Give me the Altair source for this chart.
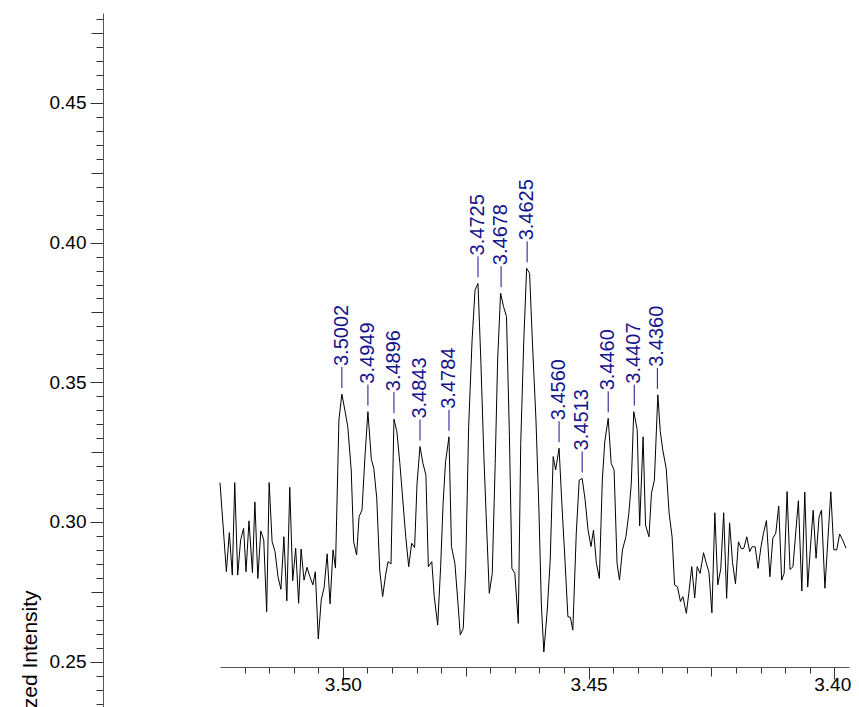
import altair as alt
import pandas as pd

# ---- spectrum ----
ppm = [3.5250, 3.5237, 3.5231, 3.5225, 3.5220, 3.5214, 3.5208, 3.5202, 3.5197, 3.5191,
       3.5184, 3.5179, 3.5173, 3.5167, 3.5161, 3.5155, 3.5150, 3.5144, 3.5138, 3.5132,
       3.5126, 3.5120, 3.5114, 3.5108, 3.5102, 3.5096, 3.5090, 3.5085, 3.5079, 3.5073,
       3.5067, 3.5061, 3.5056, 3.5050, 3.5044, 3.5038, 3.5032, 3.5026, 3.5020, 3.5015,
       3.5008, 3.5002, 3.4996, 3.4990, 3.4983, 3.4978, 3.4972, 3.4967, 3.4961, 3.4955,
       3.4949, 3.4942, 3.4937, 3.4931, 3.4925, 3.4919, 3.4913, 3.4908, 3.4902, 3.4896,
       3.4890, 3.4884, 3.4878, 3.4872, 3.4866, 3.4860, 3.4854, 3.4849, 3.4843, 3.4837,
       3.4831, 3.4826, 3.4819, 3.4814, 3.4807, 3.4801, 3.4796, 3.4791, 3.4784, 3.4779,
       3.4772, 3.4766, 3.4761, 3.4755, 3.4750, 3.4744, 3.4737, 3.4731, 3.4725, 3.4719,
       3.4713, 3.4708, 3.4702, 3.4696, 3.4690, 3.4685, 3.4679, 3.4673, 3.4667, 3.4661,
       3.4656, 3.4650, 3.4643, 3.4638, 3.4632, 3.4626, 3.4620, 3.4614, 3.4607, 3.4601,
       3.4596, 3.4591, 3.4584, 3.4578, 3.4572, 3.4567, 3.4560, 3.4554, 3.4548, 3.4542,
       3.4537, 3.4532, 3.4525, 3.4519, 3.4513, 3.4507, 3.4501, 3.4495, 3.4490, 3.4484,
       3.4478, 3.4472, 3.4467, 3.4460, 3.4454, 3.4448, 3.4442, 3.4437, 3.4431, 3.4424,
       3.4418, 3.4413, 3.4408, 3.4401, 3.4396, 3.4389, 3.4384, 3.4377, 3.4372, 3.4366,
       3.4359, 3.4354, 3.4349, 3.4342, 3.4336, 3.4330, 3.4325, 3.4319, 3.4313, 3.4308,
       3.4301, 3.4296, 3.4290, 3.4284, 3.4279, 3.4273, 3.4266, 3.4260, 3.4255, 3.4249,
       3.4243, 3.4237, 3.4231, 3.4225, 3.4219, 3.4213, 3.4207, 3.4201, 3.4195, 3.4189,
       3.4184, 3.4178, 3.4172, 3.4167, 3.4161, 3.4155, 3.4149, 3.4144, 3.4138, 3.4131,
       3.4125, 3.4119, 3.4113, 3.4107, 3.4102, 3.4096, 3.4090, 3.4084, 3.4078, 3.4073,
       3.4066, 3.4060, 3.4054, 3.4049, 3.4043, 3.4037, 3.4031, 3.4026, 3.4019, 3.4014,
       3.4007, 3.4001, 3.3995, 3.3989, 3.3983, 3.3976]

intensity = [0.3141, 0.2822, 0.2962, 0.2810, 0.3141, 0.2810, 0.2936, 0.2977, 0.2822, 0.3004,
             0.2819, 0.3072, 0.2798, 0.2968, 0.2936, 0.2679, 0.3141, 0.2930, 0.2894, 0.2804,
             0.2759, 0.2947, 0.2718, 0.3124, 0.2790, 0.2906, 0.2709, 0.2903, 0.2792, 0.2838,
             0.2804, 0.2775, 0.2822, 0.2581, 0.2721, 0.2767, 0.2886, 0.2707, 0.2900, 0.2835,
             0.3365, 0.3458, 0.3401, 0.3341, 0.3186, 0.2929, 0.2882, 0.3019, 0.3043, 0.3234,
             0.3395, 0.3224, 0.3192, 0.3085, 0.2828, 0.2733, 0.2810, 0.2858, 0.2850, 0.3368,
             0.3323, 0.3210, 0.3079, 0.2947, 0.2840, 0.2924, 0.2908, 0.3139, 0.3270, 0.3210,
             0.3168, 0.2840, 0.2858, 0.2733, 0.2631, 0.2840, 0.3067, 0.3216, 0.3305, 0.2912,
             0.2852, 0.2715, 0.2596, 0.2619, 0.2834, 0.3341, 0.3651, 0.3830, 0.3854, 0.3568,
             0.3234, 0.3007, 0.2745, 0.2816, 0.3210, 0.3580, 0.3819, 0.3771, 0.3735, 0.3305,
             0.2834, 0.2816, 0.2637, 0.3282, 0.3640, 0.3908, 0.3890, 0.3633, 0.3365, 0.3043,
             0.2703, 0.2535, 0.2685, 0.2864, 0.3234, 0.3186, 0.3264, 0.3055, 0.2864, 0.2661,
             0.2659, 0.2613, 0.2960, 0.3150, 0.3156, 0.3079, 0.2971, 0.2912, 0.2971, 0.2852,
             0.2798, 0.3150, 0.3287, 0.3371, 0.3210, 0.3186, 0.2852, 0.2792, 0.2900, 0.2947,
             0.3031, 0.3139, 0.3395, 0.3330, 0.2986, 0.3305, 0.2989, 0.2947, 0.3103, 0.3150,
             0.3455, 0.3323, 0.3258, 0.3192, 0.3031, 0.2947, 0.2775, 0.2768, 0.2715, 0.2733,
             0.2673, 0.2745, 0.2840, 0.2728, 0.2840, 0.2816, 0.2890, 0.2850, 0.2820, 0.2675,
             0.3033, 0.2775, 0.2832, 0.3033, 0.2727, 0.2997, 0.2855, 0.2779, 0.2929, 0.2904,
             0.2906, 0.2947, 0.2894, 0.2912, 0.2911, 0.2834, 0.2912, 0.2960, 0.3005, 0.2804,
             0.2942, 0.2960, 0.3057, 0.2792, 0.2816, 0.3109, 0.2830, 0.2840, 0.2971, 0.3076,
             0.2753, 0.3107, 0.2767, 0.2896, 0.3042, 0.2870, 0.3017, 0.3043, 0.2763, 0.2907,
             0.3108, 0.2901, 0.2900, 0.2957, 0.2936, 0.2906]

# ---- peak annotations ----
peak_labels = ["3.5002", "3.4949", "3.4896", "3.4843", "3.4784", "3.4725", "3.4678",
               "3.4625", "3.4560", "3.4513", "3.4460", "3.4407", "3.4360"]
peak_ppm = [3.5002, 3.4949, 3.4896, 3.4843, 3.4784, 3.4725, 3.4678,
            3.4625, 3.4560, 3.4513, 3.4460, 3.4407, 3.4360]
peak_height = [0.3458, 0.3395, 0.3368, 0.3270, 0.3305, 0.3854, 0.3819,
               0.3908, 0.3264, 0.3156, 0.3371, 0.3395, 0.3455]

# ---- axis ticks ----
x_ticks = [round(3.52 - 0.005 * i, 3) for i in range(25)]
y_ticks = [round(0.235 + 0.005 * i, 3) for i in range(50)]

spec = pd.DataFrame({"ppm": ppm, "intensity": intensity})
peaks = pd.DataFrame({"ppm": peak_ppm, "intensity": peak_height, "label": peak_labels})

FONT = "Liberation Sans"
BLUE = "#14148c"

major = "abs(datum.value*20 - round(datum.value*20)) < 0.0001"
mid = "abs(datum.value*40 - round(datum.value*40)) < 0.0001"

xscale = alt.Scale(domain=[3.525, 3.397], nice=False, zero=False)
yscale = alt.Scale(domain=[0.23092, 0.48218], nice=False, zero=False)

xaxis = alt.Axis(
    values=x_ticks,
    tickCount=500,
    title=None,
    grid=False,
    offset=-48,
    labelExpr=f"({major}) ? format(datum.value, '.2f') : ''",
    labelOverlap=False,
    labelFont=FONT, labelFontSize=19, labelColor="black", labelPadding=-4,
    labelOffset={"condition": {"test": "datum.value < 3.401", "value": -2}, "value": 0},
    tickSize={"condition": [{"test": major, "value": 12}, {"test": mid, "value": 9}], "value": 6},
    tickColor="#333333", domainColor="#555555",
)
yaxis = alt.Axis(
    values=y_ticks,
    tickCount=500,
    title="Normalized Intensity",
    grid=False,
    offset=117,
    labelExpr=f"({major}) ? format(datum.value, '.2f') : ''",
    labelOverlap=False,
    labelFont=FONT, labelFontSize=19, labelColor="black", labelPadding=4,
    tickSize={"condition": [{"test": major, "value": 13}, {"test": mid, "value": 12}], "value": 7},
    tickColor="#333333", domainColor="#555555",
    titleFont=FONT, titleFontSize=21, titleFontWeight="normal", titleColor="black",
    titleAngle=270, titleAlign="center", titleBaseline="alphabetic",
    titleX=-67, titleY=672,
)

line = alt.Chart(spec).mark_line(color="black", strokeWidth=1).encode(
    x=alt.X("ppm:Q", scale=xscale, axis=xaxis),
    y=alt.Y("intensity:Q", scale=yscale, axis=yaxis),
)

leaders = alt.Chart(peaks).mark_rule(color=BLUE, strokeWidth=1, yOffset=-6, y2Offset=-27).encode(
    x="ppm:Q", y="intensity:Q", y2="intensity:Q",
)

texts = alt.Chart(peaks).mark_text(
    angle=270, align="left", baseline="middle", yOffset=-28,
    font=FONT, fontSize=20, color=BLUE,
).encode(x="ppm:Q", y="intensity:Q", text="label:N")

chart = alt.layer(line, leaders, texts).properties(
    width=629, height=702,
    autosize=alt.AutoSizeParams(type="none"),
    padding={"left": 212, "top": 5, "right": 2, "bottom": 0},
    background="white",
).configure_view(stroke=None)

chart.save("out.html", embed_options={"renderer": "svg", "actions": False})
